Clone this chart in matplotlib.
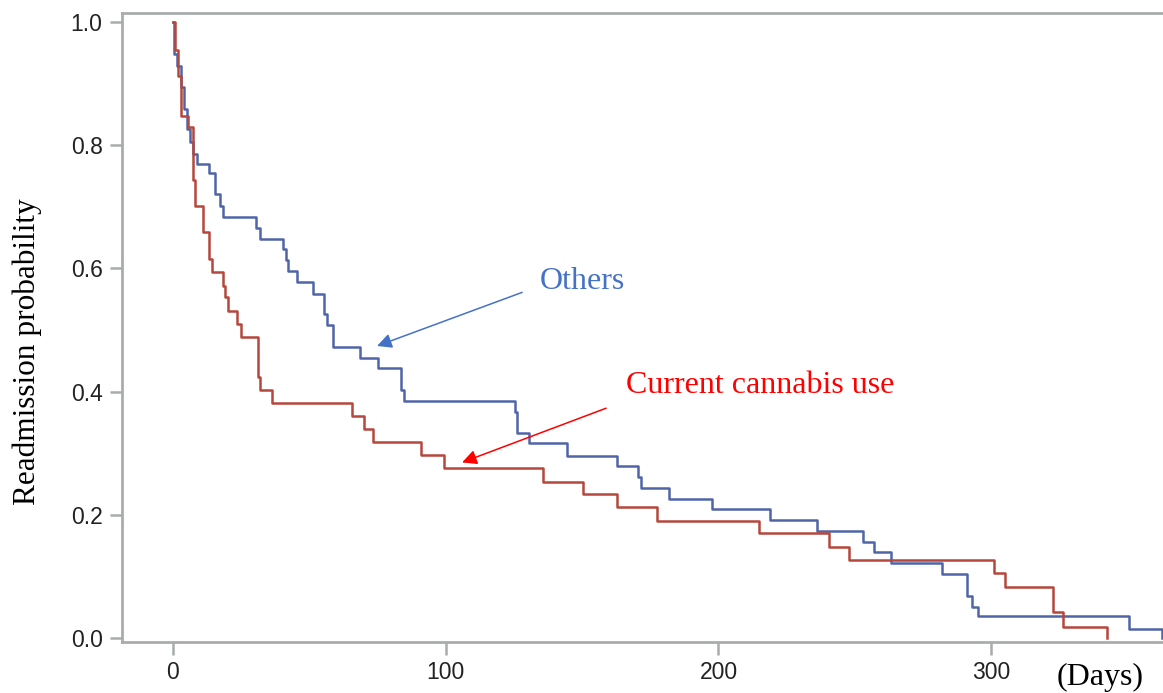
import numpy as np
import matplotlib.pyplot as plt

# Kaplan-Meier style step data
others_t = [0, 0.4, 1.5, 2.8, 4.0, 5.0, 6.2, 7.4, 8.7, 13.3, 15.4, 17.2, 18.2,
            30.6, 31.9, 40.2, 41.4, 42.3, 45.4, 51.4, 55.4, 56.4, 58.6, 68.6,
            75.3, 83.6, 84.7, 125.4, 126.3, 130.7, 144.6, 162.7, 170.6, 171.5,
            182.0, 197.8, 219.0, 236.0, 253.1, 257.0, 263.2, 282.0, 291.0,
            293.0, 295.3, 350.7, 362.5]
others_s = [1.0, 0.948, 0.929, 0.894, 0.859, 0.827, 0.805, 0.786, 0.770, 0.754,
            0.721, 0.702, 0.684, 0.666, 0.648, 0.631, 0.613, 0.596, 0.578,
            0.559, 0.526, 0.508, 0.472, 0.455, 0.439, 0.403, 0.384, 0.367,
            0.333, 0.316, 0.296, 0.279, 0.262, 0.243, 0.226, 0.209, 0.191,
            0.174, 0.156, 0.139, 0.122, 0.104, 0.068, 0.051, 0.035, 0.015, 0.0]

cannabis_t = [0, 0.7, 1.9, 3.1, 5.6, 7.4, 8.1, 11.1, 13.3, 14.2, 18.4, 19.1,
              20.3, 23.3, 24.9, 31.3, 31.9, 36.2, 65.5, 70.0, 73.4, 91.0, 99.4,
              135.5, 150.5, 162.7, 177.6, 215.0, 240.7, 247.9, 301.2, 305.1,
              322.6, 326.5, 342.6]
cannabis_s = [1.0, 0.955, 0.913, 0.848, 0.829, 0.743, 0.702, 0.659, 0.616,
              0.594, 0.572, 0.553, 0.531, 0.510, 0.489, 0.424, 0.403, 0.382,
              0.360, 0.340, 0.318, 0.297, 0.276, 0.254, 0.233, 0.212, 0.190,
              0.170, 0.148, 0.1265, 0.105, 0.082, 0.043, 0.018, 0.0]

xticks = [0, 100, 200, 300]
yticks = [0.0, 0.2, 0.4, 0.6, 0.8, 1.0]

serif = ['Liberation Serif', 'DejaVu Serif']
sans = ['Liberation Sans', 'DejaVu Sans']
spine_col = '#A8ACAC'

fig = plt.figure(figsize=(11.63, 6.93), dpi=100)
ax = fig.add_axes([0.1049, 0.0736, 0.8951, 0.9077])

ax.step(others_t, others_s, where='post', color='#5065A8', lw=1.8)
ax.step(cannabis_t, cannabis_s, where='post', color='#B5473D', lw=1.8)

ax.set_xlim(-18.7, 363)
ax.set_ylim(-0.0065, 1.0146)
ax.set_xticks(xticks)
ax.set_yticks(yticks)
ax.set_xticklabels([str(v) for v in xticks], family=sans, fontsize=16.5)
ax.set_yticklabels(['%.1f' % v for v in yticks], family=sans, fontsize=16.5)
ax.tick_params(direction='out', length=9, width=1.8, color=spine_col, pad=5,
               labelcolor='#222222')

for side in ['left', 'bottom', 'top']:
    ax.spines[side].set_color(spine_col)
    ax.spines[side].set_linewidth(2)
ax.spines['right'].set_visible(False)

fig.text(27 / 1163, 1 - 352 / 693, 'Readmission probability', family=serif,
         fontsize=22.5, rotation=90, ha='center', va='center')
fig.text(1100 / 1163, 1 - 677 / 693, '(Days)', family=serif, fontsize=23,
         ha='center', va='center')

# annotations
ax.annotate('', xy=(74.8, 0.474), xytext=(128, 0.561),
            arrowprops=dict(arrowstyle='-|>', color='#4472C4', lw=1.1,
                            mutation_scale=22, shrinkA=0, shrinkB=0))
ax.text(134.6, 0.579, 'Others', color='#4472C4', family=serif, fontsize=23,
        va='center', ha='left')

ax.annotate('', xy=(106, 0.285), xytext=(158.8, 0.373),
            arrowprops=dict(arrowstyle='-|>', color='#FF0000', lw=1.1,
                            mutation_scale=22, shrinkA=0, shrinkB=0))
ax.text(166.1, 0.410, 'Current cannabis use', color='#FF0000', family=serif,
        fontsize=23, va='center', ha='left')

fig.savefig('out.png', dpi=100)
